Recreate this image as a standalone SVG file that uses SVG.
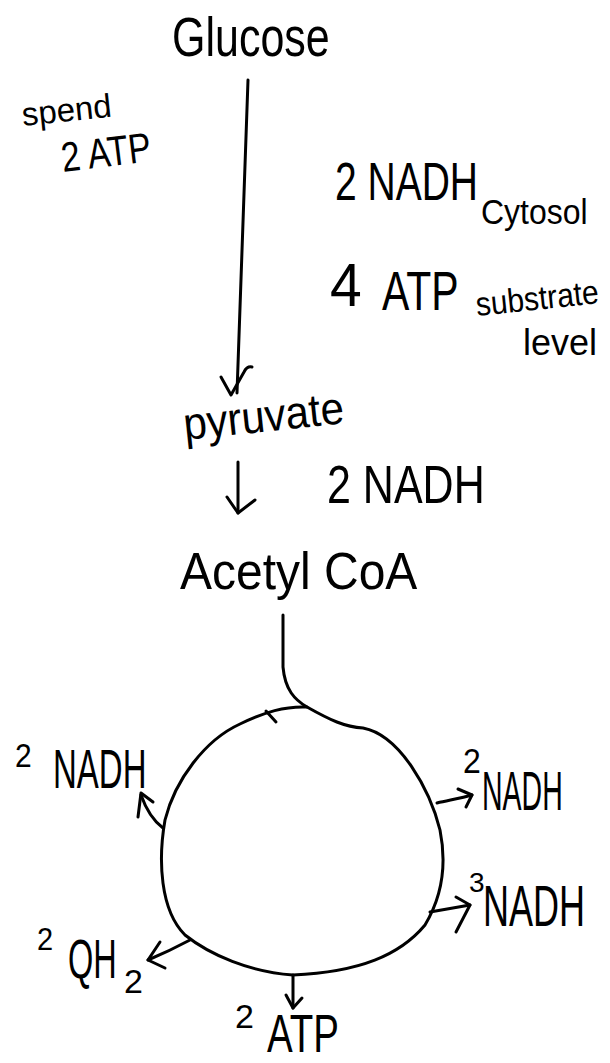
<svg xmlns="http://www.w3.org/2000/svg" width="610" height="1063" viewBox="0 0 610 1063">
  <style>
    .ink { fill: none; stroke: #000; stroke-width: 3; stroke-linecap: round; stroke-linejoin: round; }
    .t { font-family: "Liberation Sans", "DejaVu Sans", sans-serif; fill: #000; }
  </style>
  <rect width="610" height="1063" fill="#fff"/>

  <g id="glucose">
    <text class="t" font-size="43" transform="translate(172 56) scale(1 1.3)">Glucose</text>
  </g>
  <g id="spend-atp">
    <text class="t" font-size="33" transform="translate(23 126) rotate(-6)">spend</text>
    <text class="t" font-size="34" transform="translate(63 172) rotate(-7) scale(1 1.23)">2 ATP</text>
  </g>
  <g id="nadh-cytosol">
    <text class="t" font-size="39" transform="translate(335 200) scale(1 1.36)">2 NADH</text>
    <text class="t" font-size="32" transform="translate(481 224) scale(1 1.11)">Cytosol</text>
  </g>
  <g id="atp-substrate">
    <text class="t" font-size="57" transform="translate(330 306) scale(1 1.08)">4</text>
    <text class="t" font-size="41" transform="translate(382 310) scale(1 1.35)">ATP</text>
    <text class="t" font-size="30" transform="translate(477 316) rotate(-6) scale(1 1.12)">substrate</text>
    <text class="t" font-size="36" transform="translate(523 355)">level</text>
  </g>
  <g id="pyruvate">
    <text class="t" font-size="42" transform="translate(185 440) rotate(-6) scale(1 1.09)">pyruvate</text>
  </g>
  <g id="nadh-link">
    <text class="t" font-size="43" transform="translate(327 503) scale(1 1.26)">2 NADH</text>
  </g>
  <g id="acetyl-coa">
    <text class="t" font-size="48" transform="translate(180 589) scale(1 1.09)">Acetyl CoA</text>
  </g>

  <g id="cycle">
    <path class="ink" d="M 307 707 C 330 720 345 727 363 728 C 400 735 430 790 440 830 C 448 870 440 900 425 925 C 400 955 360 972 293 975 C 250 972 210 955 185 935 C 160 910 158 860 165 820 C 175 780 205 740 240 724 C 265 712 285 706 307 707 Z"/>
    <path class="ink" d="M 266 711 L 276 722"/>
  </g>

  <g id="label-nadh-left">
    <text class="t" font-size="30" transform="translate(15 767) scale(1 1.1)">2</text>
    <text class="t" font-size="33" transform="translate(53 788) scale(1 1.69)">NADH</text>
  </g>
  <g id="label-nadh-right1">
    <text class="t" font-size="32" transform="translate(463 773) scale(1 1.1)">2</text>
    <text class="t" font-size="28.5" transform="translate(482 810) scale(1 1.96)">NADH</text>
  </g>
  <g id="label-nadh-right2">
    <text class="t" font-size="28" transform="translate(469 892)">3</text>
    <text class="t" font-size="36" transform="translate(483 926) scale(1 1.6)">NADH</text>
  </g>
  <g id="label-qh2">
    <text class="t" font-size="29" transform="translate(37 950) scale(1 1.1)">2</text>
    <text class="t" font-size="32.5" transform="translate(68 978) scale(1 1.71)">QH</text>
    <text class="t" font-size="34" transform="translate(124 993)">2</text>
  </g>
  <g id="label-atp">
    <text class="t" font-size="34" transform="translate(235 1028)">2</text>
    <text class="t" font-size="38.5" transform="translate(267 1052) scale(1 1.4)">ATP</text>
  </g>

  <g id="connectors">
    <path class="ink" d="M 248 80 L 237 393"/>
    <path class="ink" d="M 221 377 L 231 395 L 244 372 Q 247 366 252 367"/>
    <path class="ink" d="M 238 462 L 238 513"/>
    <path class="ink" d="M 227 497 L 238 513 L 255 500"/>
    <path class="ink" d="M 283 615 L 283 667 C 285 690 295 700 307 707"/>
    <path class="ink" d="M 163 828 C 155 822 147 812 141 795"/>
    <path class="ink" d="M 138 817 L 141 793 L 153 802"/>
    <path class="ink" d="M 437 803 C 450 800 462 798 472 795"/>
    <path class="ink" d="M 458 789 L 472 795 L 466 807"/>
    <path class="ink" d="M 430 912 L 470 905"/>
    <path class="ink" d="M 456 897 L 470 905 L 456 932"/>
    <path class="ink" d="M 190 940 C 175 948 160 955 148 960"/>
    <path class="ink" d="M 160 942 L 148 960 L 165 968"/>
    <path class="ink" d="M 293 975 L 293 1008"/>
    <path class="ink" d="M 286 995 L 293 1008 L 302 998"/>
  </g>
</svg>
